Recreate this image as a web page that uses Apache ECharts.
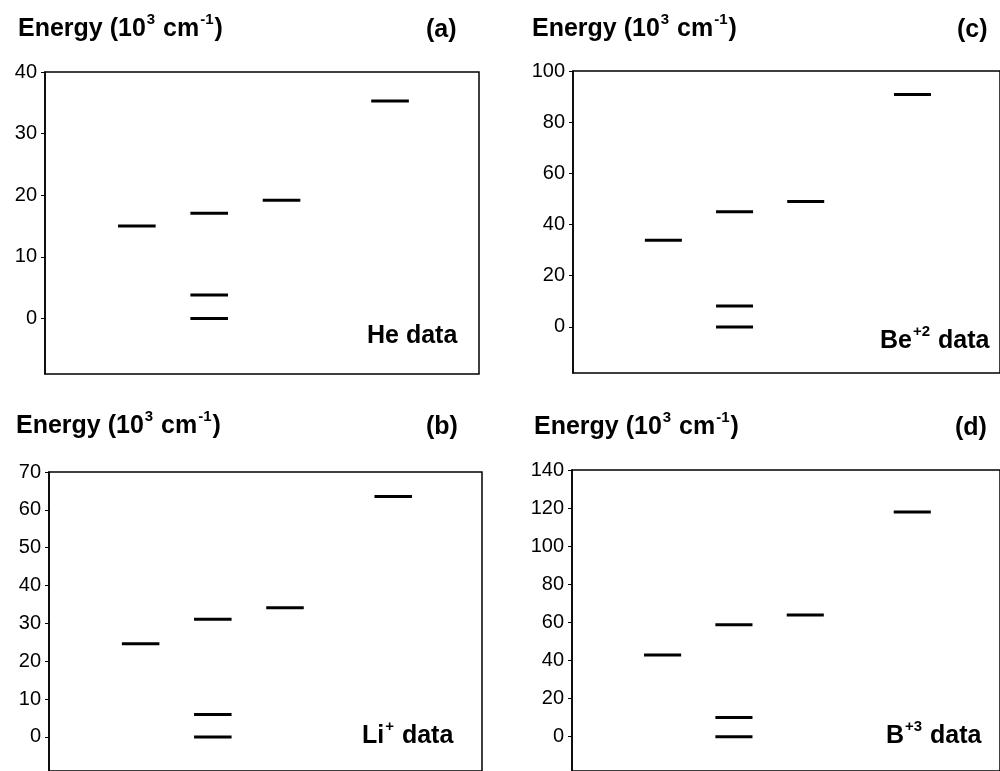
<!DOCTYPE html>
<html>
<head>
<meta charset="utf-8">
<script src="https://cdn.jsdelivr.net/npm/echarts@6/dist/echarts.min.js"></script>
<style>
html,body{margin:0;padding:0;background:#fff;}
#main{width:1000px;height:771px;}
</style>
</head>
<body>
<div id="main"></div>
<script>
// Column positions of each level (shared by all panels)
const xPos = [1, 2, 2, 2, 3, 4.5];
// Energy levels (10^3 cm^-1)
const heData = [15.0, 17.1, 3.8, 0, 19.2, 35.3];
const liData = [24.6, 31.1, 5.9, 0, 34.1, 63.5];
const beData = [33.9, 45.0, 8.2, 0, 49.0, 90.8];
const bData  = [42.9, 58.8, 10.1, 0, 63.9, 118.0];
// Tick labels
const heTicks = [0, 10, 20, 30, 40];
const liTicks = [0, 10, 20, 30, 40, 50, 60, 70];
const beTicks = [0, 20, 40, 60, 80, 100];
const bTicks  = [0, 20, 40, 60, 80, 100, 120, 140];
const panelTags = ['(a)', '(b)', '(c)', '(d)'];

const FONT = '"Liberation Sans", Arial, sans-serif';
const HW = 0.26;

const panels = [
  {data: heData, ticks: heTicks, min: -9,  max: 40,  grid: {left: 45,  top: 72,  width: 434, height: 302}},
  {data: liData, ticks: liTicks, min: -9,  max: 70,  grid: {left: 49,  top: 472, width: 433, height: 302}},
  {data: beData, ticks: beTicks, min: -18, max: 100, grid: {left: 573, top: 71,  width: 434, height: 302}},
  {data: bData,  ticks: bTicks,  min: -18, max: 140, grid: {left: 572, top: 470, width: 434, height: 302}}
];

const grids = panels.map(p => Object.assign({show: true, borderColor: '#000', borderWidth: 1.5, backgroundColor: 'transparent'}, p.grid));
const xAxes = panels.map((p, i) => ({type: 'value', gridIndex: i, min: -0.27, max: 5.73, show: false}));
const yAxes = panels.map((p, i) => ({
  type: 'value', gridIndex: i, min: p.min, max: p.max, position: 'left',
  axisLine: {show: true, onZero: false, lineStyle: {color: '#000', width: 1.5}},
  axisTick: {show: true, length: 4, lineStyle: {color: '#000', width: 1}, customValues: p.ticks},
  axisLabel: {show: true, color: '#000', fontSize: 20, fontFamily: FONT, margin: 8, customValues: p.ticks},
  splitLine: {show: false}
}));
const series = panels.map((p, i) => ({
  type: 'custom', xAxisIndex: i, yAxisIndex: i,
  data: p.data.map((v, k) => [xPos[k], v]),
  renderItem: function (params, api) {
    const x = api.value(0), y = api.value(1);
    const a = api.coord([x - HW, y]);
    const b = api.coord([x + HW, y]);
    return {type: 'line', shape: {x1: a[0], y1: a[1], x2: b[0], y2: b[1]}, style: {stroke: '#000', lineWidth: 3}};
  }
}));

const richBase = {
  b: {fontSize: 25, lineHeight: 28, fontWeight: 'bold', fontFamily: FONT, color: '#000'},
  s: {fontSize: 15, lineHeight: 15, fontWeight: 'bold', fontFamily: FONT, color: '#000', padding: [0, 1, 18, 1]}
};
const energyText = '{b|Energy (10}{s|3}{b| cm}{s|-1}{b|)}';
const titlePos = [[18, 15], [16, 412], [532, 15], [534, 413]];
const tagPos = [[426, 16], [426, 413], [957, 16], [955, 414]];
const labels = [
  {text: '{b|He data}', left: 367, top: 322},
  {text: '{b|Li}{s|+}{b| data}', left: 362, top: 722},
  {text: '{b|Be}{s|+2}{b| data}', left: 880, top: 327},
  {text: '{b|B}{s|+3}{b| data}', left: 886, top: 722}
];

const titles = [];
titlePos.forEach(p => titles.push({left: p[0], top: p[1], text: energyText, padding: 0, textStyle: {rich: richBase}}));
tagPos.forEach((p, i) => titles.push({left: p[0], top: p[1], text: '{b|' + panelTags[i] + '}', padding: 0, textStyle: {rich: richBase}}));
labels.forEach(l => titles.push({left: l.left, top: l.top, text: l.text, padding: 0, textStyle: {rich: richBase}}));

const chart = echarts.init(document.getElementById('main'), null, {renderer: 'canvas'});
chart.setOption({
  backgroundColor: '#fff',
  animation: false,
  title: titles,
  grid: grids,
  xAxis: xAxes,
  yAxis: yAxes,
  series: series
});
</script>
</body>
</html>
